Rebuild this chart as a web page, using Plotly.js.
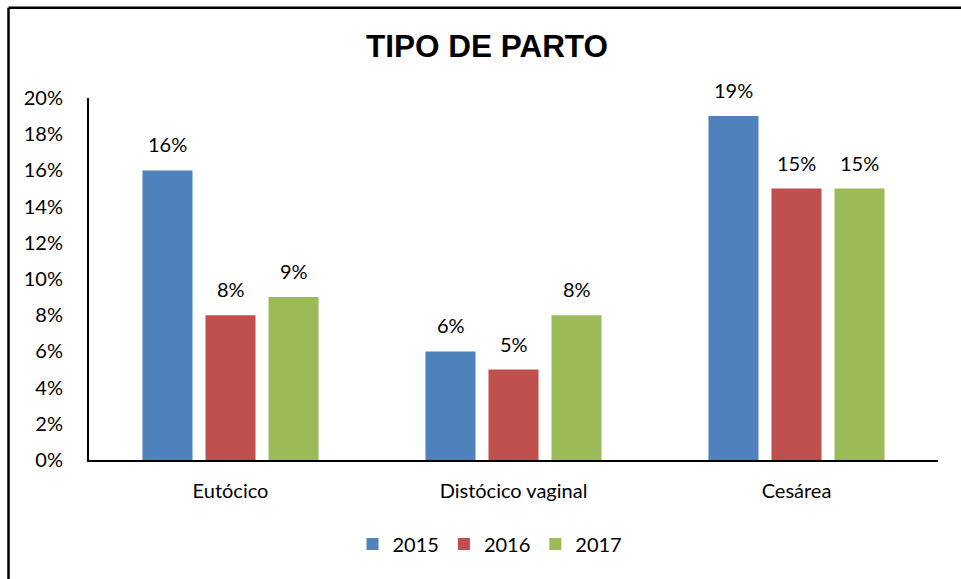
<!DOCTYPE html>
<html>
<head>
<meta charset="utf-8">
<script src="https://cdn.plot.ly/plotly-3.0.1.min.js"></script>
<style>html,body{margin:0;padding:0;background:#fff;}#chart{width:961px;height:579px;}</style>
</head>
<body>
<div id="chart"></div>
<script>
const categories = ['Eutócico', 'Distócico vaginal', 'Cesárea'];
const seriesNames = ['2015', '2016', '2017'];
const values2015 = [0.16, 0.06, 0.19];
const values2016 = [0.08, 0.05, 0.15];
const values2017 = [0.09, 0.08, 0.15];
const colors = ['#4F81BD', '#C0504D', '#9BBB59'];
const titleText = 'TIPO DE PARTO';

const allValues = [values2015, values2016, values2017];
const FONT = 'Lato, "Open Sans", sans-serif';

const traces = allValues.map((vals, i) => ({
  type: 'bar',
  name: seriesNames[i],
  x: categories,
  y: vals,
  marker: {color: colors[i]},
  hoverinfo: 'x+y'
}));

// data labels above bars, offset per series within the group
const slotPx = 63;
const annotations = [];
allValues.forEach((vals, i) => {
  vals.forEach((v, j) => {
    annotations.push({
      x: categories[j], y: v, xref: 'x', yref: 'y',
      text: Math.round(v * 100) + '%',
      showarrow: false, xshift: (i - 1) * slotPx, yshift: 26,
      yanchor: 'middle', xanchor: 'center',
      font: {family: FONT, size: 20, color: '#000'}
    });
  });
});

const layout = {
  width: 961, height: 579,
  margin: {l: 89, r: 23, t: 98, b: 119},
  paper_bgcolor: '#fff', plot_bgcolor: '#fff',
  title: {text: '<b>' + titleText + '</b>', font: {family: 'Liberation Sans, Arial, sans-serif', size: 31.5, color: '#000'},
          x: 487 / 961, xref: 'container', xanchor: 'center', y: 1 - 46 / 579, yref: 'container', yanchor: 'middle'},
  barmode: 'group', bargap: 0.332, bargroupgap: 0.206,
  xaxis: {showline: true, linecolor: '#000', linewidth: 2, showgrid: false, ticks: '', zeroline: false,
          tickfont: {family: FONT, size: 20, color: '#000'}, ticklabelstandoff: 12, fixedrange: true},
  yaxis: {range: [0, 0.20], dtick: 0.02, tickformat: '.0%', showline: true, linecolor: '#000', linewidth: 2,
          showgrid: false, zeroline: false, ticks: '', tickfont: {family: FONT, size: 20, color: '#000'},
          ticklabelstandoff: 20, fixedrange: true},
  legend: {orientation: 'h', xref: 'container', yref: 'container', x: 490 / 961, xanchor: 'center',
           y: 1 - 544 / 579, yanchor: 'middle', font: {family: FONT, size: 20, color: '#000'}},
  annotations: annotations,
  shapes: [
    {type: 'line', xref: 'paper', yref: 'paper', x0: (8.5 - 89) / 849, x1: 1.2, y0: (460 - 7.7) / 362, y1: (460 - 7.7) / 362,
     line: {color: '#000', width: 2.5}},
    {type: 'line', xref: 'paper', yref: 'paper', x0: (8.5 - 89) / 849, x1: (8.5 - 89) / 849, y0: (460 - 7.7) / 362, y1: -0.5,
     line: {color: '#000', width: 2.5}}
  ],
  showlegend: true
};

Plotly.newPlot('chart', traces, layout, {displayModeBar: false, staticPlot: true});
</script>
</body>
</html>
